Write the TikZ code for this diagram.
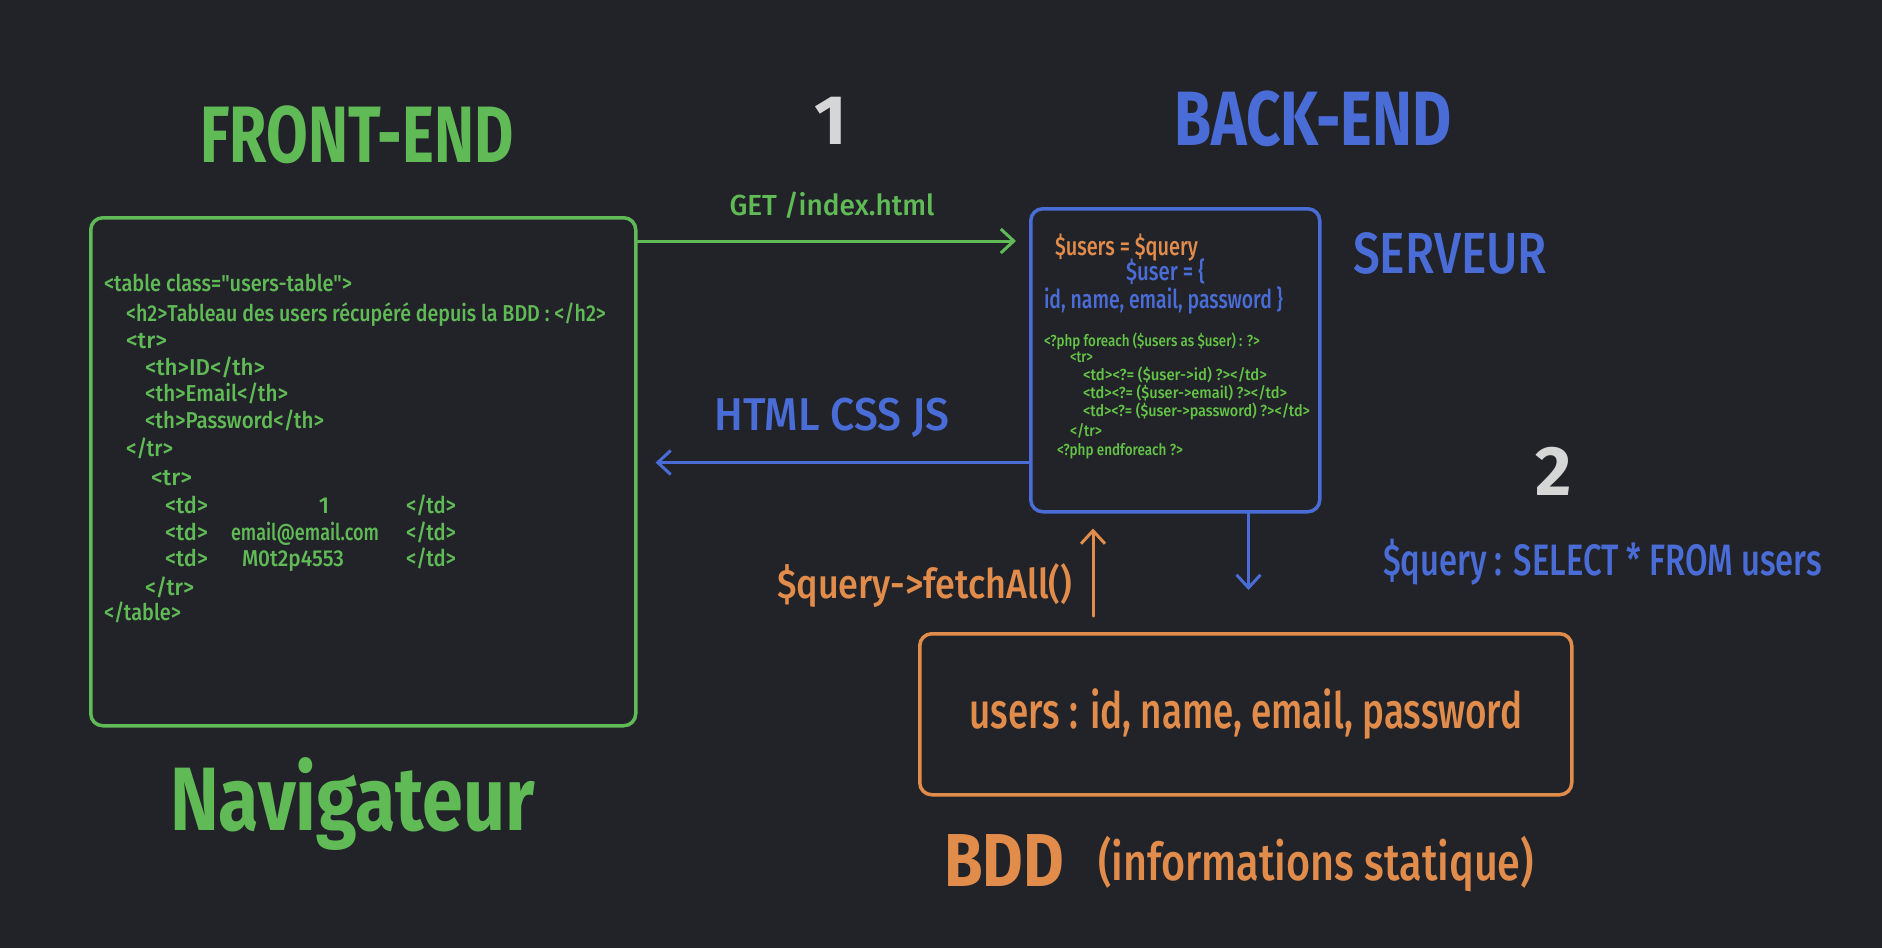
\documentclass[tikz,border=0pt]{standalone}
\usepackage{fontspec}
\setmainfont{Fira Sans}
\newfontfamily\med{Fira Sans Medium}
\usepackage{graphicx}
\usetikzlibrary{arrows.meta}
\definecolor{bg}{RGB}{33,35,40}
\definecolor{fgreen}{RGB}{96,186,86}
\definecolor{fblue}{RGB}{74,108,214}
\definecolor{forange}{RGB}{226,140,76}
\definecolor{fgray}{RGB}{214,214,214}
\definecolor{flime}{RGB}{100,196,70}
\newcommand\fw[2]{\resizebox{#1}{\height}{#2}}
\newcommand\fs[1]{\fontsize{#1}{#1}\selectfont}
\begin{document}
\begin{tikzpicture}[x=1pt,y=-1pt,
  txt/.style={inner sep=0pt, outer sep=0pt},
  fcode/.style={txt, anchor=base west, text=fgreen, font=\fs{23}\med},
  scode/.style={txt, anchor=base west, font=\fs{26}\med},
  pcode/.style={txt, anchor=base west, text=flime, font=\fs{16}\med},
  box/.style={draw, line width=3.5pt, rounded corners=12pt, inner sep=0pt, anchor=north west},
  arr/.style={line width=3pt, line cap=round, -{Straight Barb[length=13pt,width=24pt,line width=3pt]}},
]
\fill[bg] (0,0) rectangle (1882,948);
\useasboundingbox (0,0) rectangle (1882,948);

% boxes
\node[box, draw=fgreen, minimum width=545pt, minimum height=508pt] (front) at (89,216) {};
\node[box, draw=fblue, minimum width=289pt, minimum height=303pt] (server) at (1029,207) {};
\node[box, draw=forange, minimum width=652pt, minimum height=161pt, text=forange, font=\fs{50}\med] (bdd) at (918,632) {\fw{553pt}{users : id, name, email, password}};

% titles
\node[txt, anchor=base, text=fgreen, font=\fs{80}\bfseries] (tfront) at (357,162) {\fw{313pt}{FRONT-END}};
\node[txt, anchor=base, text=fblue, font=\fs{77}\bfseries] (tback) at (1313,145) {\fw{277pt}{BACK-END}};
\node[txt, anchor=base, text=fgray, font=\fs{70}\bfseries] (n1) at (831,144) {1};
\node[txt, anchor=base, text=fgray, font=\fs{70}\bfseries] (n2) at (1554,495) {2};
\node[txt, anchor=base, text=fblue, font=\fs{58}\med] (tserv) at (1450,273) {\fw{194pt}{SERVEUR}};
\node[txt, anchor=base west, text=fgreen, font=\fs{90}\bfseries] (tnav) at (170,830) {\fw{365pt}{Navigateur}};
\node[txt, anchor=base west, text=forange, font=\fs{75}\bfseries] (tbdd) at (944,886) {\fw{120pt}{BDD}};
\node[txt, anchor=base west, text=forange, font=\fs{52}\med] (tinfo) at (1098,880) {\fw{436pt}{(informations statique)}};

% connector labels
\node[txt, anchor=base, text=fgreen, font=\fs{29}\med] (lget) at (832,215) {\fw{205pt}{GET /index.html}};
\node[txt, anchor=base, text=fblue, font=\fs{46}\med] (lhtml) at (832,430) {\fw{235pt}{HTML CSS JS}};
\node[txt, anchor=base west, text=fblue, font=\fs{44}\med] (lsel) at (1383,575) {\fw{439pt}{\$query : SELECT * FROM users}};
\node[txt, anchor=base west, text=forange, font=\fs{41}\med] (lfetch) at (777,598) {\fw{295pt}{\$query->fetchAll()}};

% front-end code
\node[fcode] (c1) at (104,291) {\fw{248pt}{<table class="users-table">}};
\node[fcode] (c2) at (126,321) {\fw{480pt}{<h2>Tableau des users récupéré depuis la BDD : </h2>}};
\node[fcode] (c3) at (126,348) {\fw{41pt}{<tr>}};
\node[fcode] (c4) at (145,375) {\fw{120pt}{<th>ID</th>}};
\node[fcode] (c5) at (145,401) {\fw{143pt}{<th>Email</th>}};
\node[fcode] (c6) at (145,428) {\fw{179pt}{<th>Password</th>}};
\node[fcode] (c7) at (126,456) {\fw{47pt}{</tr>}};
\node[fcode] (c8) at (151,485) {\fw{41pt}{<tr>}};
\node[fcode] (c9a) at (165,513) {\fw{43pt}{<td>}};
\node[fcode, anchor=base] (c9b) at (324,513) {1};
\node[fcode] (c9c) at (406,513) {\fw{50pt}{</td>}};
\node[fcode] (c10a) at (165,540) {\fw{43pt}{<td>}};
\node[fcode] (c10b) at (231,540) {\fw{148pt}{email@email.com}};
\node[fcode] (c10c) at (406,540) {\fw{50pt}{</td>}};
\node[fcode] (c11a) at (165,566) {\fw{43pt}{<td>}};
\node[fcode] (c11b) at (242,566) {\fw{102pt}{M0t2p4553}};
\node[fcode] (c11c) at (406,566) {\fw{50pt}{</td>}};
\node[fcode] (c12) at (145,595) {\fw{49pt}{</tr>}};
\node[fcode] (c13) at (104,620) {\fw{77pt}{</table>}};

% server code
\node[scode, text=forange] (s1) at (1055,255) {\fw{143pt}{\$users = \$query}};
\node[scode, text=fblue] (s2) at (1126,280) {\fw{79pt}{\$user = \{}};
\node[scode, text=fblue] (s3) at (1044,308) {\fw{239pt}{id, name, email, password \}}};
\node[pcode] (p1) at (1044,346) {\fw{216pt}{<?php foreach (\$users as \$user) : ?>}};
\node[pcode] (p2) at (1070,362) {\fw{23pt}{<tr>}};
\node[pcode] (p3) at (1083,380) {\fw{184pt}{<td><?= (\$user->id) ?></td>}};
\node[pcode] (p4) at (1083,398) {\fw{204pt}{<td><?= (\$user->email) ?></td>}};
\node[pcode] (p5) at (1083,416) {\fw{227pt}{<td><?= (\$user->password) ?></td>}};
\node[pcode] (p6) at (1070,436) {\fw{32pt}{</tr>}};
\node[pcode] (p7) at (1057,455) {\fw{126pt}{<?php endforeach ?>}};

% connectors
\coordinate (g1) at ([yshift=-25pt]front.north east);
\draw[arr, fgreen, shorten >=13pt] (g1) -- (g1 -| server.west);
\coordinate (h1) at ([yshift=51pt]server.south west);
\draw[arr, fblue, shorten >=18pt] (h1) -- (h1 -| front.east);
\coordinate (d1) at ([xshift=-73pt]server.south east);
\draw[arr, fblue, shorten >=42pt] (d1) -- (d1 |- bdd.north);
\coordinate (u1) at ([xshift=175pt]bdd.north west);
\draw[arr, forange, shorten <=16pt, shorten >=15pt] (u1) -- (u1 |- server.south);
\end{tikzpicture}
\end{document}
